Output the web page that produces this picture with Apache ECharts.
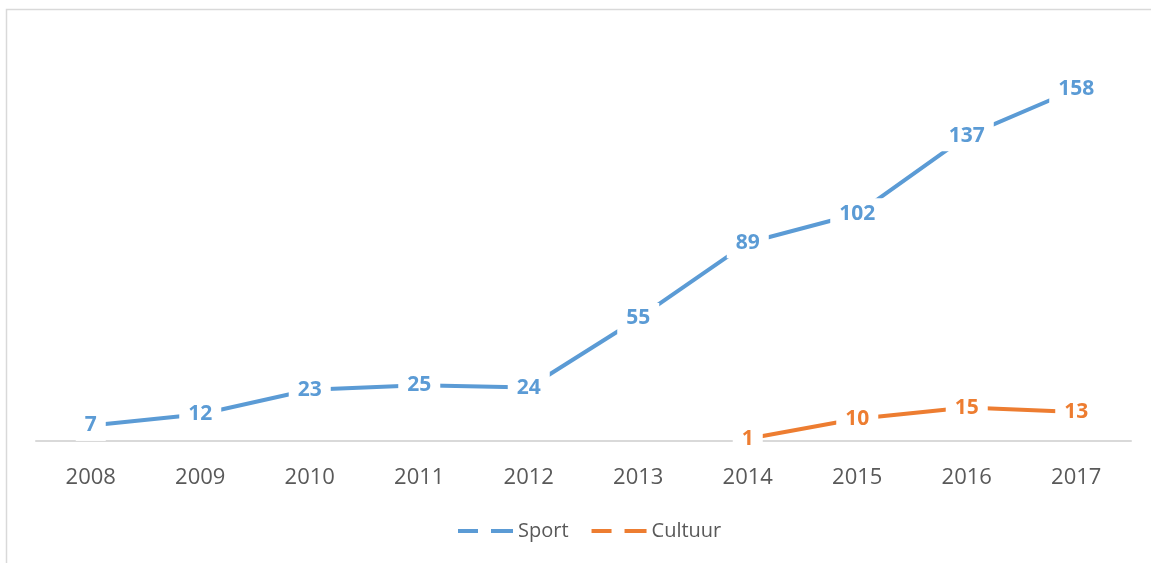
<!DOCTYPE html>
<html>
<head>
<meta charset="utf-8">
<title>Sport / Cultuur</title>
<script src="https://cdn.jsdelivr.net/npm/echarts@6/dist/echarts.min.js"></script>
<style>
  html, body { margin: 0; padding: 0; background: #ffffff; }
  #chart { width: 1151px; height: 563px; }
</style>
</head>
<body>
<div id="chart"></div>
<script>
// data
var years = ["2008", "2009", "2010", "2011", "2012", "2013", "2014", "2015", "2016", "2017"];
var sport = [7, 12, 23, 25, 24, 55, 89, 102, 137, 158];
var cultuur = [null, null, null, null, null, null, 1, 10, 15, 13];

var blue = "#5B9BD5";
var orange = "#ED7D31";
var font = "Open Sans";

// white box behind the value, so it cuts the line like in excel
function labelStyle(color) {
  return {
    show: true,
    position: "inside",
    color: color,
    fontFamily: font,
    fontWeight: "bold",
    fontSize: 21,
    backgroundColor: "#ffffff",
    padding: [5, 9]
  };
}

var chart = echarts.init(document.getElementById("chart"));
chart.setOption({
  backgroundColor: "#ffffff",
  animation: false,
  graphic: [
    {
      type: "rect",
      shape: { x: 6.5, y: 9.5, width: 1300, height: 700 },
      style: { fill: "none", stroke: "#d9d9d9", lineWidth: 1.5 },
      silent: true,
      z: -10
    }
  ],
  grid: {
    left: 36,
    right: 20,
    top: 40,
    height: 401
  },
  legend: {
    left: 453,
    top: 516,
    itemWidth: 55,
    itemHeight: 4,
    itemGap: 23,
    icon: "path://M0,0h20v4h-20z M33,0h22v4h-22z",
    textStyle: { fontFamily: font, fontSize: 20, color: "#595959" },
    data: ["Sport", "Cultuur"]
  },
  xAxis: {
    type: "category",
    data: years,
    boundaryGap: true,
    axisLine: { lineStyle: { color: "#d9d9d9", width: 2 } },
    axisTick: { show: false },
    axisLabel: {
      margin: 26,
      fontFamily: font,
      fontSize: 22,
      color: "#595959"
    }
  },
  yAxis: {
    type: "value",
    min: 0,
    max: 180,
    show: false,
    splitLine: { show: false }
  },
  series: [
    {
      name: "Sport",
      type: "line",
      data: sport,
      color: blue,
      showSymbol: true,
      symbol: "circle",
      symbolSize: 0,
      itemStyle: { color: blue },
      lineStyle: { color: blue, width: 4 },
      label: labelStyle(blue)
    },
    {
      name: "Cultuur",
      type: "line",
      data: cultuur,
      color: orange,
      showSymbol: true,
      symbol: "circle",
      symbolSize: 0,
      itemStyle: { color: orange },
      lineStyle: { color: orange, width: 4 },
      label: labelStyle(orange)
    }
  ]
});
</script>
</body>
</html>
